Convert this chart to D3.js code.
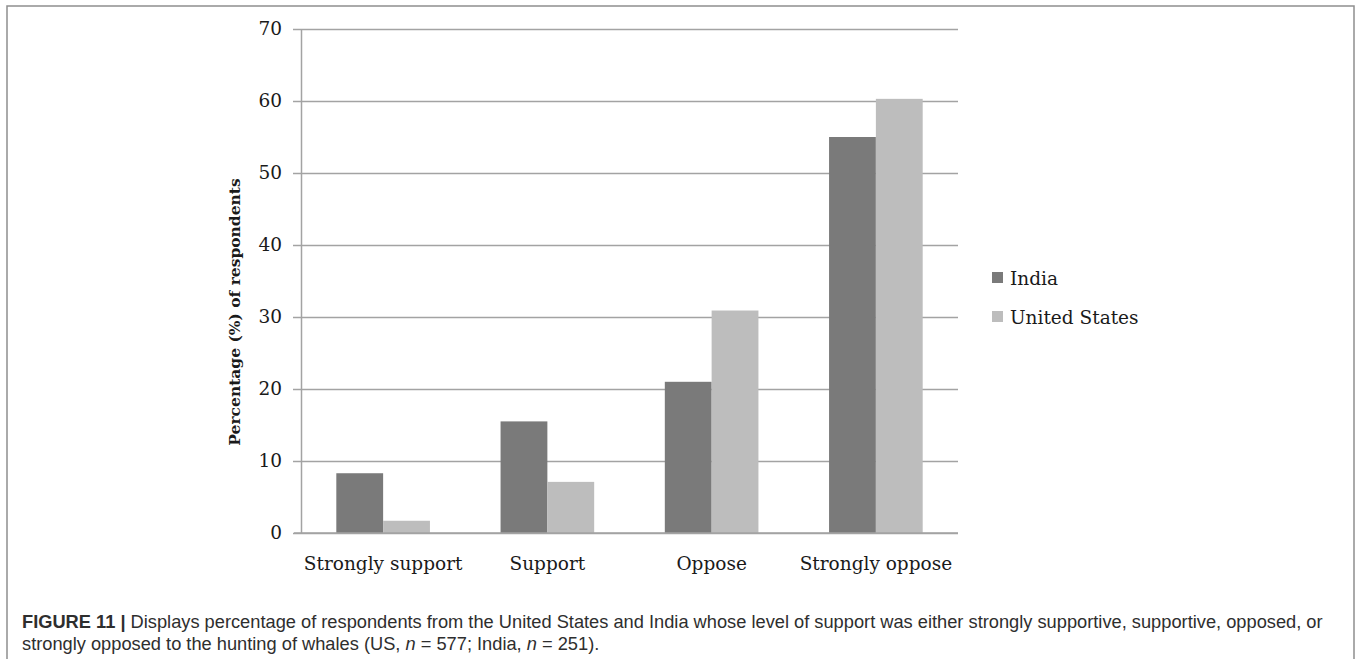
<!DOCTYPE html>
<html>
<head>
<meta charset="utf-8">
<script src="https://cdn.jsdelivr.net/npm/d3@7/dist/d3.min.js"></script>
<style>
  html, body { margin: 0; padding: 0; background: #fff; }
  svg { display: block; }
</style>
</head>
<body>
<svg id="chart" width="1357" height="659"></svg>
<script>
const categories = ["Strongly support", "Support", "Oppose", "Strongly oppose"];
const seriesNames = ["India", "United States"];
const indiaValues = [8.3, 15.5, 21.0, 55.0];
const usValues = [1.7, 7.1, 30.9, 60.3];
const yTicks = [0, 10, 20, 30, 40, 50, 60, 70];
const yTitle = "Percentage (%) of respondents";
const captionLabel = "FIGURE 11 |";
const captionLine1 = " Displays percentage of respondents from the United States and India whose level of support was either strongly supportive, supportive, opposed, or";

const colors = { "India": "#7a7a7a", "United States": "#bdbdbd" };
const serif = "'DejaVu Serif', serif";
const sans = "'Liberation Sans', Arial, sans-serif";

const svg = d3.select("#chart");

// frame
svg.append("path")
  .attr("d", "M7,659 L7,6 L1354,6 L1354,659")
  .attr("fill", "none").attr("stroke", "#8f8f8f").attr("stroke-width", 1.5);

const plotLeft = 301, plotRight = 958, plotTop = 29, plotBottom = 533;

const x = d3.scaleBand().domain(categories).range([plotLeft, plotRight])
  .paddingInner(0.43).paddingOuter(0.215);
const xs = d3.scaleBand().domain(seriesNames).range([0, x.bandwidth()]);
const y = d3.scaleLinear().domain([0, 70]).range([plotBottom, plotTop]);

// gridlines
const grid = svg.append("g")
  .attr("transform", `translate(${plotLeft},0)`)
  .call(d3.axisLeft(y).tickValues(yTicks).tickSize(-(plotRight - plotLeft)).tickFormat(""));
grid.select(".domain").remove();
grid.selectAll(".tick line").attr("stroke", "#a3a3a3").attr("stroke-width", 1.5);

// y axis with outside ticks and labels
const yAxis = svg.append("g")
  .attr("transform", `translate(${plotLeft},0)`)
  .call(d3.axisLeft(y).tickValues(yTicks).tickSize(8).tickSizeOuter(0).tickPadding(11));
yAxis.select(".domain").attr("stroke", "#a3a3a3").attr("stroke-width", 1.5);
yAxis.selectAll(".tick line").attr("stroke", "#a3a3a3").attr("stroke-width", 1.5);
yAxis.selectAll(".tick text")
  .attr("font-family", serif).attr("font-size", 18.5).attr("fill", "#1a1a1a");

// bars
const groups = svg.append("g").selectAll("g")
  .data(categories.map((c, i) => ({ c, vals: [
    { s: "India", v: indiaValues[i] },
    { s: "United States", v: usValues[i] }
  ]})))
  .join("g")
  .attr("transform", d => `translate(${x(d.c)},0)`);

groups.selectAll("rect")
  .data(d => d.vals)
  .join("rect")
  .attr("x", d => xs(d.s))
  .attr("width", xs.bandwidth())
  .attr("y", d => y(d.v))
  .attr("height", d => y(0) - y(d.v))
  .attr("fill", d => colors[d.s]);

// x axis labels
const xAxis = svg.append("g")
  .attr("transform", `translate(0,${plotBottom})`)
  .call(d3.axisBottom(x).tickSize(0).tickPadding(0));
xAxis.select(".domain").remove();
xAxis.selectAll(".tick text")
  .attr("font-family", serif).attr("font-size", 18.5).attr("fill", "#1a1a1a")
  .attr("dy", null).attr("y", 37);
svg.append("line")
  .attr("x1", plotLeft - 7).attr("x2", plotRight)
  .attr("y1", y(0)).attr("y2", y(0))
  .attr("stroke", "#a3a3a3").attr("stroke-width", 1.5);

// y title
svg.append("text")
  .attr("transform", `translate(240,312) rotate(-90)`)
  .attr("text-anchor", "middle")
  .attr("font-family", serif).attr("font-weight", "bold")
  .attr("font-size", 15.5).attr("fill", "#1a1a1a")
  .text(yTitle);

// legend
const legend = svg.append("g").selectAll("g")
  .data(seriesNames).join("g")
  .attr("transform", (d, i) => `translate(992,${272 + i * 39})`);
legend.append("rect").attr("width", 11).attr("height", 11).attr("fill", d => colors[d]);
legend.append("text").attr("x", 18).attr("y", 13)
  .attr("font-family", serif).attr("font-size", 18.5).attr("fill", "#1a1a1a")
  .text(d => d);

// caption
const cap1 = svg.append("text").attr("x", 22).attr("y", 628)
  .attr("font-family", sans).attr("font-size", 16).attr("fill", "#2e2e2e");
cap1.append("tspan").attr("font-weight", "bold").text(captionLabel);
cap1.append("tspan").text(captionLine1);

const cap2 = svg.append("text").attr("x", 22).attr("y", 650)
  .attr("font-family", sans).attr("font-size", 16).attr("fill", "#2e2e2e");
cap2.append("tspan").text("strongly opposed to the hunting of whales (US, ");
cap2.append("tspan").attr("font-style", "italic").text("n");
cap2.append("tspan").text(" = 577; India, ");
cap2.append("tspan").attr("font-style", "italic").text("n");
cap2.append("tspan").text(" = 251).");

// fit caption width to reference
const w1 = cap1.node().getComputedTextLength();
const fs = 16 * 1301 / w1;
cap1.attr("font-size", fs);
cap2.attr("font-size", fs);
</script>
</body>
</html>
